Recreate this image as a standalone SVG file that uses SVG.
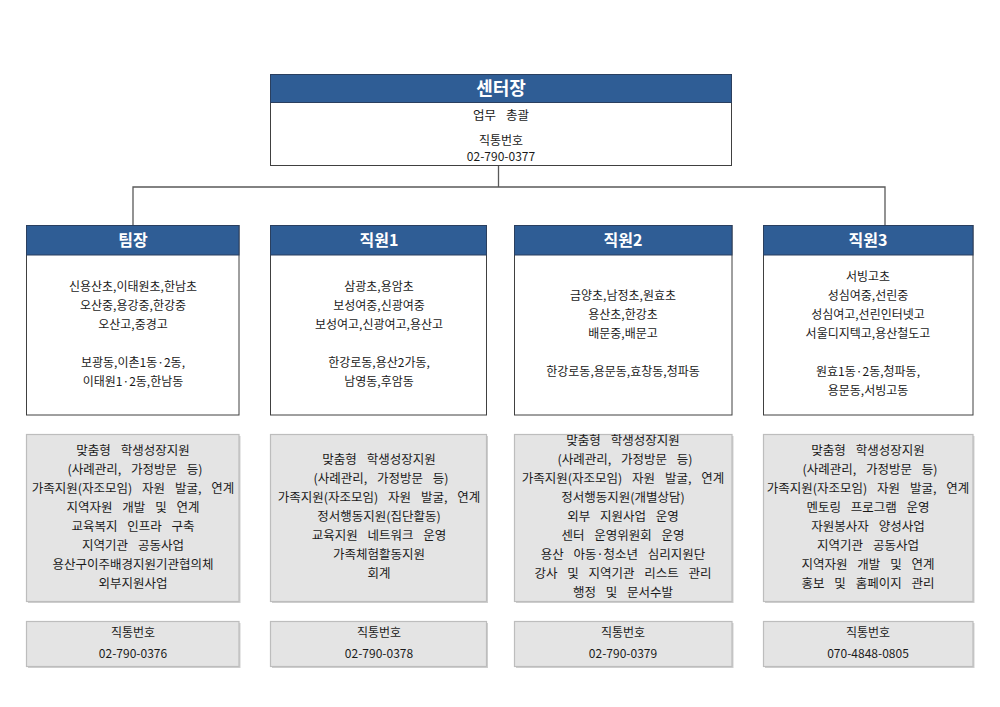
<svg xmlns="http://www.w3.org/2000/svg" width="1000" height="707" viewBox="0 0 1000 707">
<defs>
<style>
.hdr{fill:#2F5D95;stroke:#2A3F5F;stroke-width:1}
.body{fill:#FFFFFF;stroke:#404040;stroke-width:1}
.gray{fill:#E4E4E4;stroke:#BDBDBD;stroke-width:1.2}
.shadow{fill:#CFCFCF}
.ht{font-family:"Noto Sans CJK KR","Noto Sans",sans-serif;font-size:16px;font-weight:bold;fill:#FFFFFF;text-anchor:middle}
.big{font-size:18px}
.t{font-family:"Noto Sans CJK KR","Noto Sans",sans-serif;font-size:12px;fill:#1A1A1A;text-anchor:middle}
.w{font-size:12.5px;word-spacing:7px}
.conn{fill:none;stroke:#595959;stroke-width:1.3}
</style>
</defs>
<rect width="1000" height="707" fill="#FFFFFF"/>
<g id="connectors">
<path class="conn" d="M498.5 166 V187"/>
<path class="conn" d="M133 226 V187 H885 V226"/>
</g>
<g id="center">
<rect class="body" x="270.5" y="74.5" width="461" height="91"/>
<rect class="hdr" x="270.5" y="74.5" width="461" height="28"/>
<text class="ht big" x="501" y="95">센터장</text>
<text class="t w" x="501" y="120">업무 총괄</text>
<text class="t" x="501" y="145">직통번호</text>
<text class="t" x="501" y="161">02-790-0377</text>
</g>
<g id="leader">
<rect class="body" x="26.5" y="225.5" width="212.5" height="189.5"/>
<rect class="hdr" x="26.5" y="225.5" width="212.5" height="29.5"/>
<text class="ht" x="133" y="246">팀장</text>
<text class="t" x="133" y="291">신용산초,이태원초,한남초</text>
<text class="t" x="133" y="310">오산중,용강중,한강중</text>
<text class="t" x="133" y="329">오산고,중경고</text>
<text class="t" x="133" y="367">보광동,이촌1동·2동,</text>
<text class="t" x="133" y="386">이태원1·2동,한남동</text>
</g>
<g id="staff1">
<rect class="body" x="270.5" y="225.5" width="216" height="189.5"/>
<rect class="hdr" x="270.5" y="225.5" width="216" height="29.5"/>
<text class="ht" x="379" y="246">직원1</text>
<text class="t" x="379" y="291">삼광초,용암초</text>
<text class="t" x="379" y="310">보성여중,신광여중</text>
<text class="t" x="379" y="329">보성여고,신광여고,용산고</text>
<text class="t" x="379" y="367">한강로동,용산2가동,</text>
<text class="t" x="379" y="386">남영동,후암동</text>
</g>
<g id="staff2">
<rect class="body" x="514.5" y="225.5" width="217.5" height="189.5"/>
<rect class="hdr" x="514.5" y="225.5" width="217.5" height="29.5"/>
<text class="ht" x="623" y="246">직원2</text>
<text class="t" x="623" y="300">금양초,남정초,원효초</text>
<text class="t" x="623" y="319">용산초,한강초</text>
<text class="t" x="623" y="338">배문중,배문고</text>
<text class="t" x="623" y="376">한강로동,용문동,효창동,청파동</text>
</g>
<g id="staff3">
<rect class="body" x="763.5" y="225.5" width="209.5" height="189.5"/>
<rect class="hdr" x="763.5" y="225.5" width="209.5" height="29.5"/>
<text class="ht" x="868" y="246">직원3</text>
<text class="t" x="868" y="281">서빙고초</text>
<text class="t" x="868" y="300">성심여중,선린중</text>
<text class="t" x="868" y="319">성심여고,선린인터넷고</text>
<text class="t" x="868" y="338">서울디지텍고,용산철도고</text>
<text class="t" x="868" y="376">원효1동·2동,청파동,</text>
<text class="t" x="868" y="395">용문동,서빙고동</text>
</g>
<g id="leader-tasks">
<rect class="shadow" x="28" y="436" width="212.5" height="167"/>
<rect class="gray" x="26.5" y="434.5" width="212.5" height="167"/>
<text class="t w" x="133" y="455">맞춤형 학생성장지원</text>
<text class="t w" x="135" y="474">(사례관리, 가정방문 등)</text>
<text class="t w" x="133" y="493">가족지원(자조모임) 자원 발굴, 연계</text>
<text class="t w" x="133" y="512">지역자원 개발 및 연계</text>
<text class="t w" x="133" y="531">교육복지 인프라 구축</text>
<text class="t w" x="133" y="550">지역기관 공동사업</text>
<text class="t w" x="133" y="569">용산구이주배경지원기관협의체</text>
<text class="t w" x="133" y="588">외부지원사업</text>
</g>
<g id="staff1-tasks">
<rect class="shadow" x="272" y="436" width="216" height="167"/>
<rect class="gray" x="270.5" y="434.5" width="216" height="167"/>
<text class="t w" x="379" y="464">맞춤형 학생성장지원</text>
<text class="t w" x="381" y="483">(사례관리, 가정방문 등)</text>
<text class="t w" x="379" y="502">가족지원(자조모임) 자원 발굴, 연계</text>
<text class="t w" x="379" y="521">정서행동지원(집단활동)</text>
<text class="t w" x="379" y="540">교육지원 네트워크 운영</text>
<text class="t w" x="379" y="559">가족체험활동지원</text>
<text class="t w" x="379" y="578">회계</text>
</g>
<g id="staff2-tasks">
<rect class="shadow" x="516" y="436" width="217.5" height="167"/>
<rect class="gray" x="514.5" y="434.5" width="217.5" height="167"/>
<text class="t w" x="623" y="445">맞춤형 학생성장지원</text>
<text class="t w" x="625" y="464">(사례관리, 가정방문 등)</text>
<text class="t w" x="623" y="483">가족지원(자조모임) 자원 발굴, 연계</text>
<text class="t w" x="623" y="502">정서행동지원(개별상담)</text>
<text class="t w" x="623" y="521">외부 지원사업 운영</text>
<text class="t w" x="623" y="540">센터 운영위원회 운영</text>
<text class="t w" x="623" y="559">용산 아동·청소년 심리지원단</text>
<text class="t w" x="623" y="578">강사 및 지역기관 리스트 관리</text>
<text class="t w" x="623" y="597">행정 및 문서수발</text>
</g>
<g id="staff3-tasks">
<rect class="shadow" x="765" y="436" width="209.5" height="167"/>
<rect class="gray" x="763.5" y="434.5" width="209.5" height="167"/>
<text class="t w" x="868" y="455">맞춤형 학생성장지원</text>
<text class="t w" x="870" y="474">(사례관리, 가정방문 등)</text>
<text class="t w" x="868" y="493">가족지원(자조모임) 자원 발굴, 연계</text>
<text class="t w" x="868" y="512">멘토링 프로그램 운영</text>
<text class="t w" x="868" y="531">자원봉사자 양성사업</text>
<text class="t w" x="868" y="550">지역기관 공동사업</text>
<text class="t w" x="868" y="569">지역자원 개발 및 연계</text>
<text class="t w" x="868" y="588">홍보 및 홈페이지 관리</text>
</g>
<g id="leader-phone">
<rect class="shadow" x="28" y="623" width="212.5" height="45"/>
<rect class="gray" x="26.5" y="621.5" width="212.5" height="45"/>
<text class="t" x="133" y="637">직통번호</text>
<text class="t" x="133" y="658">02-790-0376</text>
</g>
<g id="staff1-phone">
<rect class="shadow" x="272" y="623" width="216" height="45"/>
<rect class="gray" x="270.5" y="621.5" width="216" height="45"/>
<text class="t" x="379" y="637">직통번호</text>
<text class="t" x="379" y="658">02-790-0378</text>
</g>
<g id="staff2-phone">
<rect class="shadow" x="516" y="623" width="217.5" height="45"/>
<rect class="gray" x="514.5" y="621.5" width="217.5" height="45"/>
<text class="t" x="623" y="637">직통번호</text>
<text class="t" x="623" y="658">02-790-0379</text>
</g>
<g id="staff3-phone">
<rect class="shadow" x="765" y="623" width="209.5" height="45"/>
<rect class="gray" x="763.5" y="621.5" width="209.5" height="45"/>
<text class="t" x="868" y="637">직통번호</text>
<text class="t" x="868" y="658">070-4848-0805</text>
</g>
</svg>
